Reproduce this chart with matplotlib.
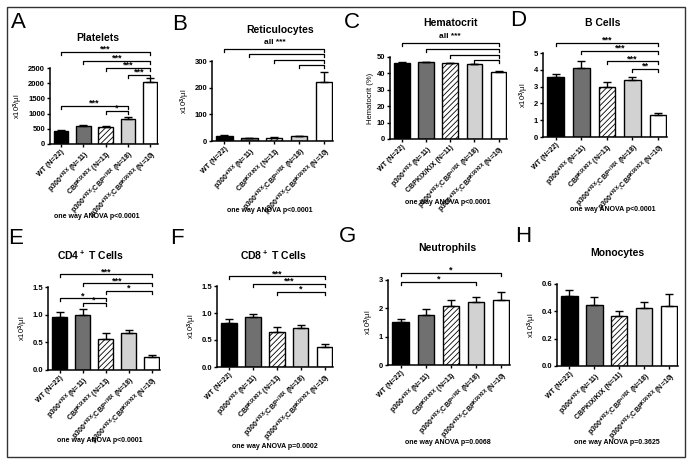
import matplotlib
matplotlib.use('Agg')
import matplotlib.pyplot as plt
import numpy as np
from matplotlib.patches import Rectangle

plt.rcParams['font.family'] = 'Liberation Sans'
plt.rcParams['font.weight'] = 'bold'
plt.rcParams['mathtext.fontset'] = 'custom'
plt.rcParams['mathtext.rm'] = 'Liberation Sans:bold'
plt.rcParams['mathtext.bf'] = 'Liberation Sans:bold'
plt.rcParams['mathtext.default'] = 'bf'
plt.rcParams['hatch.linewidth'] = 0.6

W, H = 696, 466

# groupes (étiquettes de l'axe x)
groups = ["WT (N=22)", "p300$^{+/KIX}$ (N=11)", "CBP$^{KIX/KIX}$ (N=11)",
          "p300$^{+/KIX}$;CBP$^{+/KIX}$ (N=18)",
          "p300$^{+/KIX}$;CBP$^{KIX/KIX}$ (N=10)"]
groups_plain = ["WT (N=22)", "p300$^{+/KIX}$ (N=11)", "CBPKIX/KIX (N=11)",
                "p300$^{+/KIX}$;CBP$^{+/KIX}$ (N=18)",
                "p300$^{+/KIX}$;CBP$^{KIX/KIX}$ (N=10)"]

# valeurs moyennes et erreurs (SEM)
platelets = [430, 580, 575, 830, 2040]
platelets_err = [20, 40, 30, 70, 120]
retic = [18, 10, 13, 17, 220]
retic_err = [3, 2, 2, 3, 37]
hemato = [46.5, 46.8, 46.3, 45.5, 41.0]
hemato_err = [0.3, 0.4, 0.3, 0.4, 0.7]
bcells = [3.55, 4.1, 3.0, 3.4, 1.3]
bcells_err = [0.2, 0.42, 0.25, 0.2, 0.15]
cd4 = [0.96, 1.0, 0.56, 0.66, 0.23]
cd4_err = [0.09, 0.11, 0.1, 0.07, 0.05]
cd8 = [0.82, 0.92, 0.64, 0.72, 0.37]
cd8_err = [0.06, 0.07, 0.1, 0.05, 0.06]
neutro = [1.52, 1.78, 2.08, 2.22, 2.28]
neutro_err = [0.1, 0.2, 0.2, 0.17, 0.28]
mono = [0.51, 0.45, 0.365, 0.425, 0.44]
mono_err = [0.045, 0.055, 0.04, 0.04, 0.09]

# comparaisons : (i, j, étoiles)
platelets_cmp = [(0, 4, '***'), (1, 4, '***'), (2, 4, '***'), (3, 4, '***'),
                 (0, 3, '***'), (2, 3, '*')]
retic_cmp = [(0, 4, ''), (1, 4, ''), (2, 4, ''), (3, 4, '')]
hemato_cmp = [(0, 4, ''), (1, 4, ''), (2, 4, ''), (3, 4, '')]
bcells_cmp = [(0, 4, '***'), (1, 4, '***'), (2, 4, '***'), (3, 4, '**')]
cd4_cmp = [(0, 4, '***'), (1, 4, '***'), (2, 4, '*'), (0, 2, '*'), (1, 2, '*')]
cd8_cmp = [(0, 4, '***'), (1, 4, '***'), (2, 4, '*')]
neutro_cmp = [(0, 4, '*'), (0, 3, '*')]
mono_cmp = []

# hauteurs des crochets (unités de données)
platelets_lv = [3030, 2730, 2500, 2270, 1250, 1085]
retic_lv = [345, 326, 304, 285]
hemato_lv = [58.5, 54.9, 51.2, 48.2]
bcells_lv = [5.6, 5.12, 4.52, 4.05]
cd4_lv = [1.73, 1.57, 1.43, 1.30, 1.21]
cd8_lv = [1.68, 1.54, 1.39]
neutro_lv = [3.25, 2.93]
mono_lv = []

panels = [
    dict(letter='A', title='Platelets', ylabel='x10$^3$/µl', v=platelets, e=platelets_err,
         ymax=2500, ticks=[0, 500, 1000, 1500, 2000, 2500], fmt='%d', cmp=platelets_cmp,
         lv=platelets_lv, top=None, anova='one way ANOVA p<0.0001', lab=groups,
         ax=(50, 158, 144, 68), lp=(18, 22), tp=(98, 38), ap=(97, 217)),
    dict(letter='B', title='Reticulocytes', ylabel='x10$^3$/µl', v=retic, e=retic_err,
         ymax=300, ticks=[0, 100, 200, 300], fmt='%d', cmp=retic_cmp,
         lv=retic_lv, top=('all ***', 362), anova='one way ANOVA p<0.0001', lab=groups,
         ax=(212, 333, 141, 61), lp=(180, 24), tp=(280, 30), ap=(270, 211)),
    dict(letter='C', title='Hematocrit', ylabel='Hematocrit (%)', v=hemato, e=hemato_err,
         ymax=50, ticks=[0, 10, 20, 30, 40, 50], fmt='%d', cmp=hemato_cmp,
         lv=hemato_lv, top=('all ***', 61.5), anova='one way ANOVA p<0.0001', lab=groups_plain,
         ax=(390, 507, 139, 57), lp=(352, 22), tp=(450, 23), ap=(448, 202)),
    dict(letter='D', title='B Cells', ylabel='x10$^3$/µl', v=bcells, e=bcells_err,
         ymax=5, ticks=[0, 1, 2, 3, 4, 5], fmt='%d', cmp=bcells_cmp,
         lv=bcells_lv, top=None, anova='one way ANOVA p<0.0001', lab=groups,
         ax=(543, 667, 137, 53), lp=(518, 20), tp=(603, 23), ap=(613, 209)),
    dict(letter='E', title='CD4$^+$ T Cells', ylabel='x10$^3$/µl', v=cd4, e=cd4_err,
         ymax=1.5, ticks=[0, 0.5, 1.0, 1.5], fmt='%.1f', cmp=cd4_cmp,
         lv=cd4_lv, top=None, anova='one way ANOVA p<0.0001', lab=groups,
         ax=(48, 160, 370, 287), lp=(16, 238), tp=(90, 255), ap=(100, 440)),
    dict(letter='F', title='CD8$^+$ T Cells', ylabel='x10$^3$/µl', v=cd8, e=cd8_err,
         ymax=1.5, ticks=[0, 0.5, 1.0, 1.5], fmt='%.1f', cmp=cd8_cmp,
         lv=cd8_lv, top=None, anova='one way ANOVA p=0.0002', lab=groups,
         ax=(217, 333, 367, 286), lp=(177, 238), tp=(273, 255), ap=(275, 446)),
    dict(letter='G', title='Neutrophils', ylabel='x10$^3$/µl', v=neutro, e=neutro_err,
         ymax=3, ticks=[0, 1, 2, 3], fmt='%d', cmp=neutro_cmp,
         lv=neutro_lv, top=None, anova='one way ANOVA p=0.0068', lab=groups,
         ax=(388, 510, 365, 280), lp=(348, 237), tp=(447, 248), ap=(448, 442)),
    dict(letter='H', title='Monocytes', ylabel='x10$^3$/µl', v=mono, e=mono_err,
         ymax=0.6, ticks=[0, 0.2, 0.4, 0.6], fmt='%.1f', cmp=mono_cmp,
         lv=mono_lv, top=None, anova='one way ANOVA p=0.3625', lab=groups_plain,
         ax=(557, 678, 366, 284), lp=(523, 237), tp=(617, 253), ap=(617, 443)),
]

colors = ['black', '#707070', 'white', '#d2d2d2', 'white']
hatches = ['', '', '//////', '', '']

fig = plt.figure(figsize=(W / 100, H / 100), dpi=100)
fig.patches.append(Rectangle((7 / W, 1 - 457 / H), 678 / W, 450 / H,
                             transform=fig.transFigure, fill=False,
                             edgecolor='#333333', lw=1.0))

def fx(x):
    return x / W

def fy(y):
    return 1 - y / H

for p in panels:
    l, r, b, t = p['ax']
    ax = fig.add_axes([fx(l), fy(b), (r - l) / W, (b - t) / H])
    x = np.arange(5)
    ax.bar(x, p['v'], width=0.65, color=colors, edgecolor='black', lw=1.0,
           hatch=hatches, zorder=2)
    ax.errorbar(x, p['v'], yerr=[np.zeros(5), p['e']], fmt='none', ecolor='black',
                elinewidth=1.0, capsize=3, capthick=1.0, zorder=3)
    ax.set_xlim(-0.5, 4.35)
    ax.set_ylim(0, p['ymax'])
    ax.set_yticks(p['ticks'])
    ax.set_yticklabels([p['fmt'] % tk for tk in p['ticks']], fontsize=5.5)
    ax.set_xticks(x)
    ax.set_xticklabels(p['lab'], rotation=45, ha='right', rotation_mode='anchor',
                       fontsize=5)
    ax.set_ylabel(p['ylabel'], fontsize=5.5, labelpad=2)
    for s in ['top', 'right']:
        ax.spines[s].set_visible(False)
    for s in ['left', 'bottom']:
        ax.spines[s].set_linewidth(1.1)
    ax.tick_params(direction='out', length=2.5, width=1.0, pad=1)

    drop = p['ymax'] * 0.035
    for (i, j, st), lv in zip(p['cmp'], p['lv']):
        ax.plot([i, i, j, j], [lv - drop, lv, lv, lv - drop], color='black', lw=0.9,
                clip_on=False)
        if st:
            ax.text((i + j) / 2, lv, st, ha='center', va='baseline', fontsize=6.5)
    if p['top']:
        ax.text(2, p['top'][1], p['top'][0], ha='center', va='baseline', fontsize=6)

    fig.text(fx(p['lp'][0]), fy(p['lp'][1]), p['letter'], fontsize=16,
             fontweight='normal', ha='center', va='center')
    fig.text(fx(p['tp'][0]), fy(p['tp'][1]), p['title'], fontsize=7.5,
             ha='center', va='center')
    fig.text(fx(p['ap'][0]), fy(p['ap'][1]), p['anova'], fontsize=5,
             ha='center', va='center')

fig.savefig('out.png', dpi=100)
